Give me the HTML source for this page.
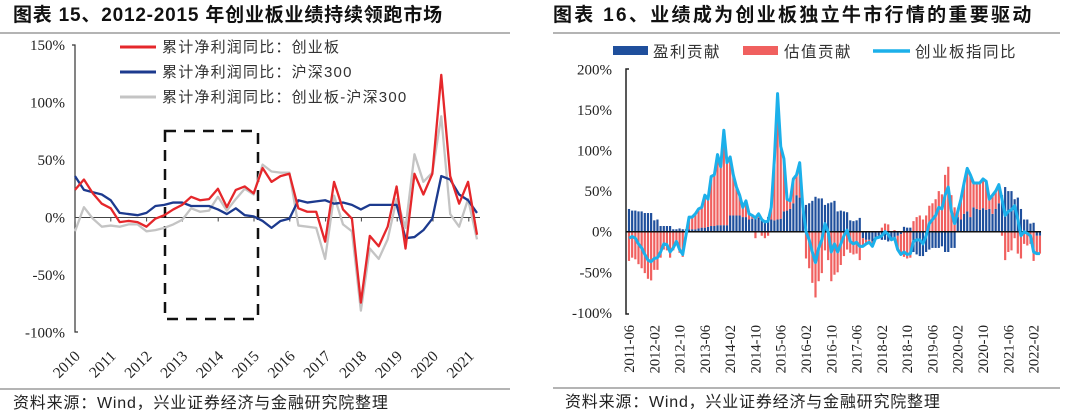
<!DOCTYPE html>
<html><head><meta charset="utf-8">
<style>
html,body{margin:0;padding:0;background:#fff;}
body{width:1080px;height:415px;overflow:hidden;position:relative;font-family:"Liberation Sans","Noto Sans CJK SC",sans-serif;}
svg{position:absolute;left:0;top:0;}
</style></head>
<body>
<svg id="c" width="1080" height="415" viewBox="0 0 1080 415">
<text x="13" y="21" font-size="19" letter-spacing="0.8" font-weight="bold" fill="#111">图表 15、2012-2015 年创业板业绩持续领跑市场</text>
<text x="553" y="21" font-size="19" letter-spacing="2.3" font-weight="bold" fill="#111">图表 16、业绩成为创业板独立牛市行情的重要驱动</text>
<line x1="0" y1="33" x2="510" y2="33" stroke="#888" stroke-width="1.2"/>
<line x1="553" y1="33" x2="1060" y2="33" stroke="#888" stroke-width="1.2"/>
<line x1="0" y1="389" x2="510" y2="389" stroke="#888" stroke-width="1.2"/>
<line x1="553" y1="388" x2="1060" y2="388" stroke="#888" stroke-width="1.2"/>
<text x="13" y="408" font-size="16" letter-spacing="0.8" fill="#222">资料来源：Wind，兴业证券经济与金融研究院整理</text>
<text x="565" y="407" font-size="16" letter-spacing="0.8" fill="#222">资料来源：Wind，兴业证券经济与金融研究院整理</text>
<g id="L"></g>
<g id="R"></g>
</svg>
<script>
// ---------- Left chart data ----------
const leftYears = ["2010","2011","2012","2013","2014","2015","2016","2017","2018","2019","2020","2021"];
const leftYTicks = [150,100,50,0,-50,-100];
const chinextProfit = [24,33,21,12,8,-4,-3,-4,-8,-1,2,7,11,18,15,16,25,9,24,27,21,43,31,36,38,8,5,5,-21,31,7,-1,-74,-16,-25,-8,27,-27,38,20,38,124,36,12,31,-15];
const csi300Profit = [36,24,22,20,15,4,3,2,4,10,11,13,13,10,10,10,7,3,8,2,1,-3,-9,-3,-1,15,13,14,15,12,13,11,7,11,11,11,11,-18,-17,-11,-1,36,33,20,15,4];
const spreadProfit = [-12,9,-1,-8,-7,-8,-6,-6,-12,-11,-9,-6,-2,8,5,6,18,6,16,25,20,46,40,39,39,-7,-8,-9,-36,19,-6,-12,-81,-27,-36,-19,16,-9,55,31,39,88,3,-8,16,-19];

// ---------- Right chart data ----------
const rightXLabels = ["2011-06","2012-02","2012-10","2013-06","2014-02","2014-10","2015-06","2016-02","2016-10","2017-06","2018-02","2018-10","2019-06","2020-02","2020-10","2021-06","2022-02"];
const rightYTicks = [200,150,100,50,0,-50,-100];
const earningsContrib = [28,26,26,25,25,23,23,23,14,15,7,7,7,7,3,3,4,3,3,3,3,3,4,5,5,6,7,7,8,8,8,8,20,20,20,20,18,18,15,16,18,17,15,14,18,15,14,15,16,25,26,28,35,45,42,30,33,35,38,43,41,41,33,35,36,38,25,26,25,24,14,13,14,17,-8,-10,-10,-12,-8,-5,-10,-10,-12,-8,-10,-5,-3,6,5,5,-25,-28,-30,-30,-25,-22,-20,-20,-20,-18,-25,-25,-20,-20,18,15,22,25,18,30,28,27,29,27,28,22,28,35,45,55,50,50,40,42,28,15,15,10,11,-5,-5];
const valuationContrib = [-36,-32,-34,-40,-45,-51,-58,-60,-47,-47,-32,-22,-23,-32,-23,-15,-26,-31,-8,15,15,19,24,25,40,34,61,63,87,72,117,77,72,50,35,25,12,20,7,4,-8,5,-5,-8,-5,15,76,155,89,65,14,10,30,25,43,0,-33,-45,-63,-81,-61,-51,-23,-35,-61,-53,-50,-41,-30,-22,-26,-28,-27,-35,-10,-5,-3,-6,0,-2,5,10,9,-2,2,-17,-25,-31,-33,-32,13,18,20,15,20,32,35,40,50,46,70,80,45,30,7,25,38,53,52,30,32,33,36,35,12,23,22,23,-5,-35,-25,-23,-8,-27,-33,-15,-17,-15,-36,-22,-22];
const chinextIndexYoY = [-8,-6,-8,-15,-20,-28,-35,-37,-33,-32,-25,-15,-16,-25,-20,-12,-22,-28,-5,18,18,22,28,30,45,40,68,70,95,80,125,85,92,70,55,45,30,38,22,20,17,22,15,12,13,30,90,170,105,90,40,38,65,70,85,30,0,-10,-25,-38,-20,-10,10,0,-25,-15,-25,-15,-5,2,-12,-15,-13,-18,-18,-15,-13,-18,-8,-7,-5,0,-3,-10,-8,-22,-28,-25,-28,-27,-12,-10,-10,-15,-5,10,15,20,30,28,45,55,25,10,25,40,60,78,70,60,60,60,65,62,40,45,50,58,40,20,25,27,32,15,-5,0,-2,-5,-25,-27,-27];

const NS="http://www.w3.org/2000/svg";
function mk(parent,tag,attrs,text){const e=document.createElementNS(NS,tag);for(const k in attrs)e.setAttribute(k,attrs[k]);if(text!==undefined)e.textContent=text;parent.appendChild(e);return e;}

// ---------- Left chart ----------
(function(){
  const g=document.getElementById('L');
  const x0=75,x1=477,yTop=45,yBot=332;
  const yS=v=>217.5-(v/50)*57.5;
  const n=chinextProfit.length;
  const xS=i=>x0+(x1-x0)*i/(n-1);
  const yearX=k=>x0+k*35.8;
  leftYTicks.forEach(t=>{
    const tl=mk(g,'text',{x:65,y:yS(t)+5,'text-anchor':'end','font-size':15,'font-family':'"Liberation Serif",serif',fill:'#222'},t+'%');
    
    
  });
  const ax=mk(g,'path',{d:`M${x0-3},${yTop} H${x0} V${yBot} H${x0+3}`,fill:'none',stroke:'#333','stroke-width':1.2});
  
  
  const zl=mk(g,'line',{x1:x0,y1:yS(0),x2:x1+3,y2:yS(0),stroke:'#444','stroke-width':1});
  
  
  leftYears.forEach((yr,k)=>{
    const xx=yearX(k);
    const tk=mk(g,'line',{x1:xx,y1:yS(0),x2:xx,y2:yS(0)+4,stroke:'#444','stroke-width':1});
    
    
    const t=mk(g,'text',{x:0,y:0,'text-anchor':'end','font-size':15.5,'font-family':'"Liberation Serif",serif',fill:'#222',transform:`translate(${xx+6},${357}) rotate(-45)`},yr);
    
    
  });
  const box=mk(g,'rect',{x:165,y:131,width:93,height:188,fill:'none',stroke:'#111','stroke-width':2.5,'stroke-dasharray':'11,8'});
  
  
  const series=[[spreadProfit,'#c4c4c4','line-chinext-minus-csi300'],[csi300Profit,'#1c3a8e','line-csi300'],[chinextProfit,'#e5272b','line-chinext']];
  series.forEach(([arr,col,name])=>{
    const p=mk(g,'polyline',{points:arr.map((v,i)=>xS(i)+','+yS(v)).join(' '),fill:'none',stroke:col,'stroke-width':2.3,'stroke-linejoin':'round'});
    
    
  });
  const leg=[['#e5272b','累计净利润同比：创业板',47],['#1c3a8e','累计净利润同比：沪深300',72],['#c4c4c4','累计净利润同比：创业板-沪深300',97]];
  leg.forEach(([c,t,y])=>{
    const l=mk(g,'line',{x1:120,y1:y,x2:156,y2:y,stroke:c,'stroke-width':3});
    
    
    const tx=mk(g,'text',{x:162,y:y+5,'font-size':15,'letter-spacing':1.2,fill:'#333'},t);
    
    
  });
})();

// ---------- Right chart ----------
(function(){
  const g=document.getElementById('R');
  const x0=626,x1=1039,yTop=69,yBot=314;
  const yS=v=>231.7-(v/50)*40.6;
  const n=chinextIndexYoY.length;
  const step=(x1-x0)/(n-1);
  const xS=i=>x0+3+step*i*0.995;
  rightYTicks.forEach(t=>{
    const tl=mk(g,'text',{x:612,y:yS(t)+5,'text-anchor':'end','font-size':15,'font-family':'"Liberation Serif",serif',fill:'#222'},t+'%');
    
    
  });
  const ax=mk(g,'path',{d:`M${x0+3},${yTop} H${x0} V${yBot} H${x0+3}`,fill:'none',stroke:'#222','stroke-width':1.5});
  
  
  const bw=2.2;
  for(let i=0;i<n;i++){
    const e=earningsContrib[i],v=valuationContrib[i];
    let pos=0,neg=0;
    [[e,'#1f4f9c','bar-earnings'],[v,'#f0605f','bar-valuation']].forEach(([val,col,name])=>{
      let ya,yb;
      if(val>=0){ya=yS(pos+val);yb=yS(pos);pos+=val;} else {ya=yS(neg);yb=yS(neg+val);neg+=val;}
      const r=mk(g,'rect',{x:xS(i)-bw/2,y:ya,width:bw,height:Math.max(0,yb-ya),fill:col});
      
      
    });
  }
  const zl=mk(g,'line',{x1:x0,y1:yS(0),x2:x1+2,y2:yS(0),stroke:'#111','stroke-width':1.5});
  
  
  const p=mk(g,'polyline',{points:chinextIndexYoY.map((v,i)=>xS(i)+','+yS(v)).join(' '),fill:'none',stroke:'#1cb0ea','stroke-width':3,'stroke-linejoin':'round'});
  
  
  rightXLabels.forEach((lb,k)=>{
    const xx=xS(k*8);
    const t=mk(g,'text',{x:0,y:0,'text-anchor':'end','font-size':14.5,'font-family':'"Liberation Serif",serif',fill:'#222',transform:`translate(${xx+5},${325}) rotate(-90)`},lb);
    
    
  });
  const legs=[['rect','#1f4f9c','盈利贡献',613,653],['rect','#f0605f','估值贡献',743,784],['line','#1cb0ea','创业板指同比',873,915]];
  legs.forEach(([kind,c,t,sx,tx])=>{
    let s;
    if(kind==='rect') s=mk(g,'rect',{x:sx,y:46,width:35,height:9,fill:c});
    else s=mk(g,'line',{x1:sx,y1:51,x2:sx+37,y2:51,stroke:c,'stroke-width':3.5});
    
    
    const te=mk(g,'text',{x:tx,y:57,'font-size':15.5,'letter-spacing':1.5,fill:'#333'},t);
    
    
  });
})();
</script>
</body></html>
